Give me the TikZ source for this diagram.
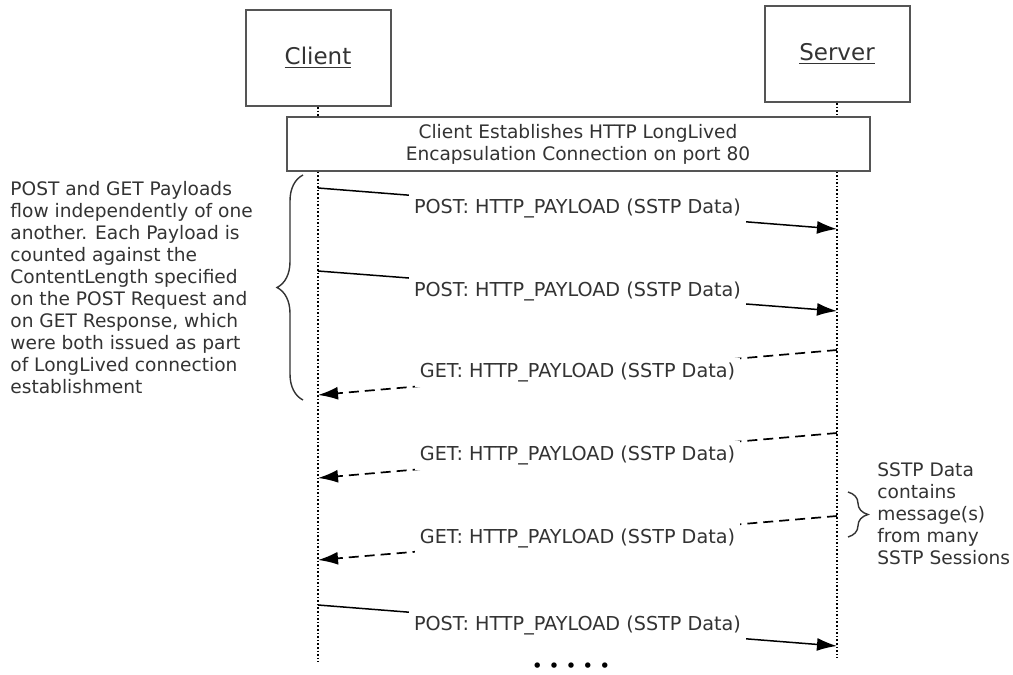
\documentclass[tikz,border=0pt]{standalone}
\usepackage{fontspec}
\setmainfont{DejaVu Sans}
\usetikzlibrary{arrows.meta,decorations.pathreplacing}
\tikzset{>={Latex[length=10pt,width=6.5pt]}}
\definecolor{inkgray}{HTML}{333333}
\definecolor{boxgray}{HTML}{555555}

\begin{document}
\begin{tikzpicture}[
    x=0.5pt, y=-0.5pt,
    font=\fontsize{9.3}{11}\selectfont,
    lane/.style={draw=boxgray, line width=1pt, fill=white, minimum width=72.5pt, minimum height=48pt, text=inkgray, font=\fontsize{11.5}{13}\selectfont},
    banner/.style={draw=boxgray, line width=1pt, fill=white, minimum width=291.5pt, minimum height=26pt, align=center, text=inkgray},
    life/.style={black, line width=0.8pt, dash pattern=on 0.8pt off 1pt},
    msg/.style={->, line width=0.75pt, black},
    reply/.style={msg, line width=0.85pt, dash pattern=on 5pt off 3pt},
    lbl/.style={fill=white, inner sep=2.5pt, text=inkgray, font=\fontsize{9.6}{11}\selectfont},
    note/.style={align=left, text=inkgray, inner sep=0pt},
    curly/.style={decorate, decoration={brace, amplitude=#1}, line width=0.7pt, black!80}
]
    \useasboundingbox (0,0) rectangle (1013,675);

    % Lifelines
    \node[lane] (Client) at (318,58) {\underline{Client}};
    \node[lane] (Server) at (837,54) {\underline{Server}};
    \coordinate (ClientEnd) at (318,662);
    \coordinate (ServerEnd) at (837,658);
    \draw[life] (Client) -- (ClientEnd);
    \draw[life] (Server) -- (ServerEnd);

    \node[banner] (Connect) at (578,144) {Client Establishes HTTP LongLived\\Encapsulation Connection on port 80};

    % Message ends
    \coordinate (c1) at (318,188); \coordinate (s1) at (837,229);
    \coordinate (c2) at (318,271); \coordinate (s2) at (837,311);
    \coordinate (s3) at (837,350); \coordinate (c3) at (318,395);
    \coordinate (s4) at (837,433); \coordinate (c4) at (318,478);
    \coordinate (s5) at (837,516); \coordinate (c5) at (318,560);
    \coordinate (c6) at (318,605); \coordinate (s6) at (837,646);

    % Arrows
    \draw[msg] (c1) -- node[lbl] (Post1) {POST: HTTP\_PAYLOAD (SSTP Data)} (s1);
    \draw[msg] (c2) -- node[lbl] (Post2) {POST: HTTP\_PAYLOAD (SSTP Data)} (s2);
    \draw[reply] (s3) -- node[lbl] (Get1) {GET: HTTP\_PAYLOAD (SSTP Data)} (c3);
    \draw[reply] (s4) -- node[lbl] (Get2) {GET: HTTP\_PAYLOAD (SSTP Data)} (c4);
    \draw[reply] (s5) -- node[lbl] (Get3) {GET: HTTP\_PAYLOAD (SSTP Data)} (c5);
    \draw[msg] (c6) -- node[lbl] (Post3) {POST: HTTP\_PAYLOAD (SSTP Data)} (s6);

    \node (More) at (571,668) {• • • • •};

    % Notes
    \draw[curly=13pt] (303,400) -- (303,175);
    \node[note, anchor=west] (Flow) at (10,288) {POST and GET Payloads\\flow independently of one\\another. Each Payload is\\counted against the\\ContentLength specified\\on the POST Request and\\on GET Response, which\\were both issued as part\\of LongLived connection\\establishment};
    \draw[curly=10pt] (848,492) -- (848,537);
    \node[note, anchor=west] (Sessions) at (877,514) {SSTP Data\\contains\\message(s)\\from many\\SSTP Sessions};
\end{tikzpicture}
\end{document}
